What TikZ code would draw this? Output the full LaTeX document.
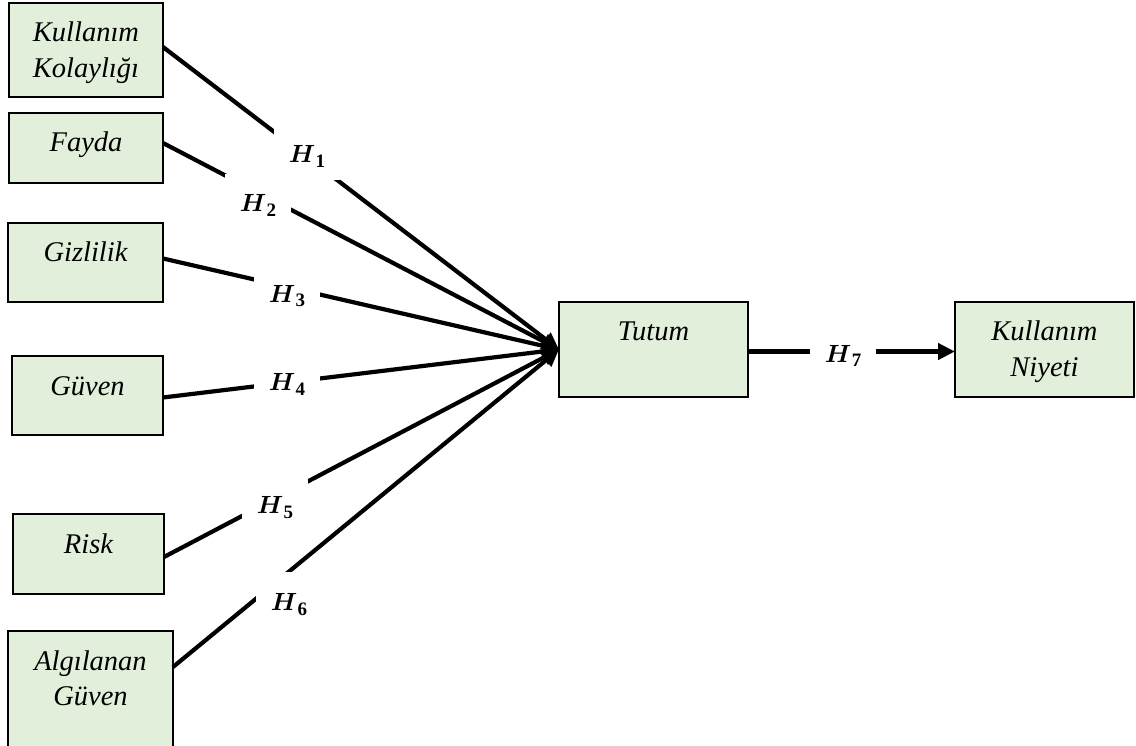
\documentclass[tikz,border=0pt]{standalone}
\usepackage{fontspec}
\setmainfont{Liberation Serif}
\usepackage{bm}
\usetikzlibrary{arrows.meta}
\definecolor{boxfill}{RGB}{226,239,218}
\newcommand{\hlab}[1]{$\bm{H}$\kern0.5pt\raisebox{-5pt}{\fontsize{19}{19}\selectfont\bfseries #1}}
\begin{document}
\begin{tikzpicture}[x=1pt,y=-1pt,
  box/.style 2 args={draw=black, line width=2pt, fill=boxfill, inner sep=0pt, outer sep=0pt,
     anchor=north west, minimum width=#1, text height=39pt, text depth=#2,
     font=\fontsize{28.5}{35.5}\selectfont\itshape},
  conn/.style={line width=4.2pt, -{Triangle[length=17pt,width=16pt]}},
  hyp/.style={fill=white, inner sep=0pt, text height=38pt, text depth=17pt,
     minimum width=66pt, anchor=base, font=\fontsize{27}{35}\selectfont}]
\useasboundingbox (0,0) rectangle (1136,746);
\clip (0,0) rectangle (1136,746);
% boxes
\node[box={154pt}{55pt}] (b1) at (9,3) {\begin{tabular}[t]{@{}c@{}}Kullanım\\Kolaylığı\end{tabular}};
\node[box={154pt}{31pt}] (b2) at (9,113) {Fayda};
\node[box={155pt}{40pt}] (b3) at (8,223) {Gizlilik};
\node[box={151pt}{40pt}] (b4) at (12,356) {Güven};
\node[box={151pt}{41pt}] (b5) at (13,514) {Risk};
\node[box={165pt}{111pt}] (b6) at (8,631) {\begin{tabular}[t]{@{}c@{}}Algılanan\\Güven\end{tabular}};
\node[box={189pt}{56pt}] (tutum) at (559,302) {Tutum};
\node[box={179pt}{56pt}] (niyeti) at (955,302) {\begin{tabular}[t]{@{}c@{}}Kullanım\\Niyeti\end{tabular}};
% connectors
\draw[conn] ([yshift=3pt]b1.east) -- (tutum.west);
\draw[conn] ([yshift=5pt]b2.east) -- (tutum.west);
\draw[conn] ([yshift=4pt]b3.east) -- (tutum.west);
\draw[conn] ([yshift=-2pt]b4.east) -- (tutum.west);
\draw[conn] ([yshift=-3pt]b5.east) -- (tutum.west);
\draw[conn] ([yshift=-36pt]b6.north east) -- (tutum.west);
\draw[conn] ([yshift=-2pt]tutum.east) -- ([yshift=-2pt]niyeti.west);
% labels
\node[hyp] (h1) at (307,163) {\hlab{1}};
\node[hyp] (h2) at (258,212) {\hlab{2}};
\node[hyp] (h3) at (287,302) {\hlab{3}};
\node[hyp] (h4) at (287,390) {\hlab{4}};
\node[hyp] (h5) at (275,513) {\hlab{5}};
\node[hyp] (h6) at (289,610) {\hlab{6}};
\node[hyp] (h7) at (843,362) {\hlab{7}};
\end{tikzpicture}
\end{document}
